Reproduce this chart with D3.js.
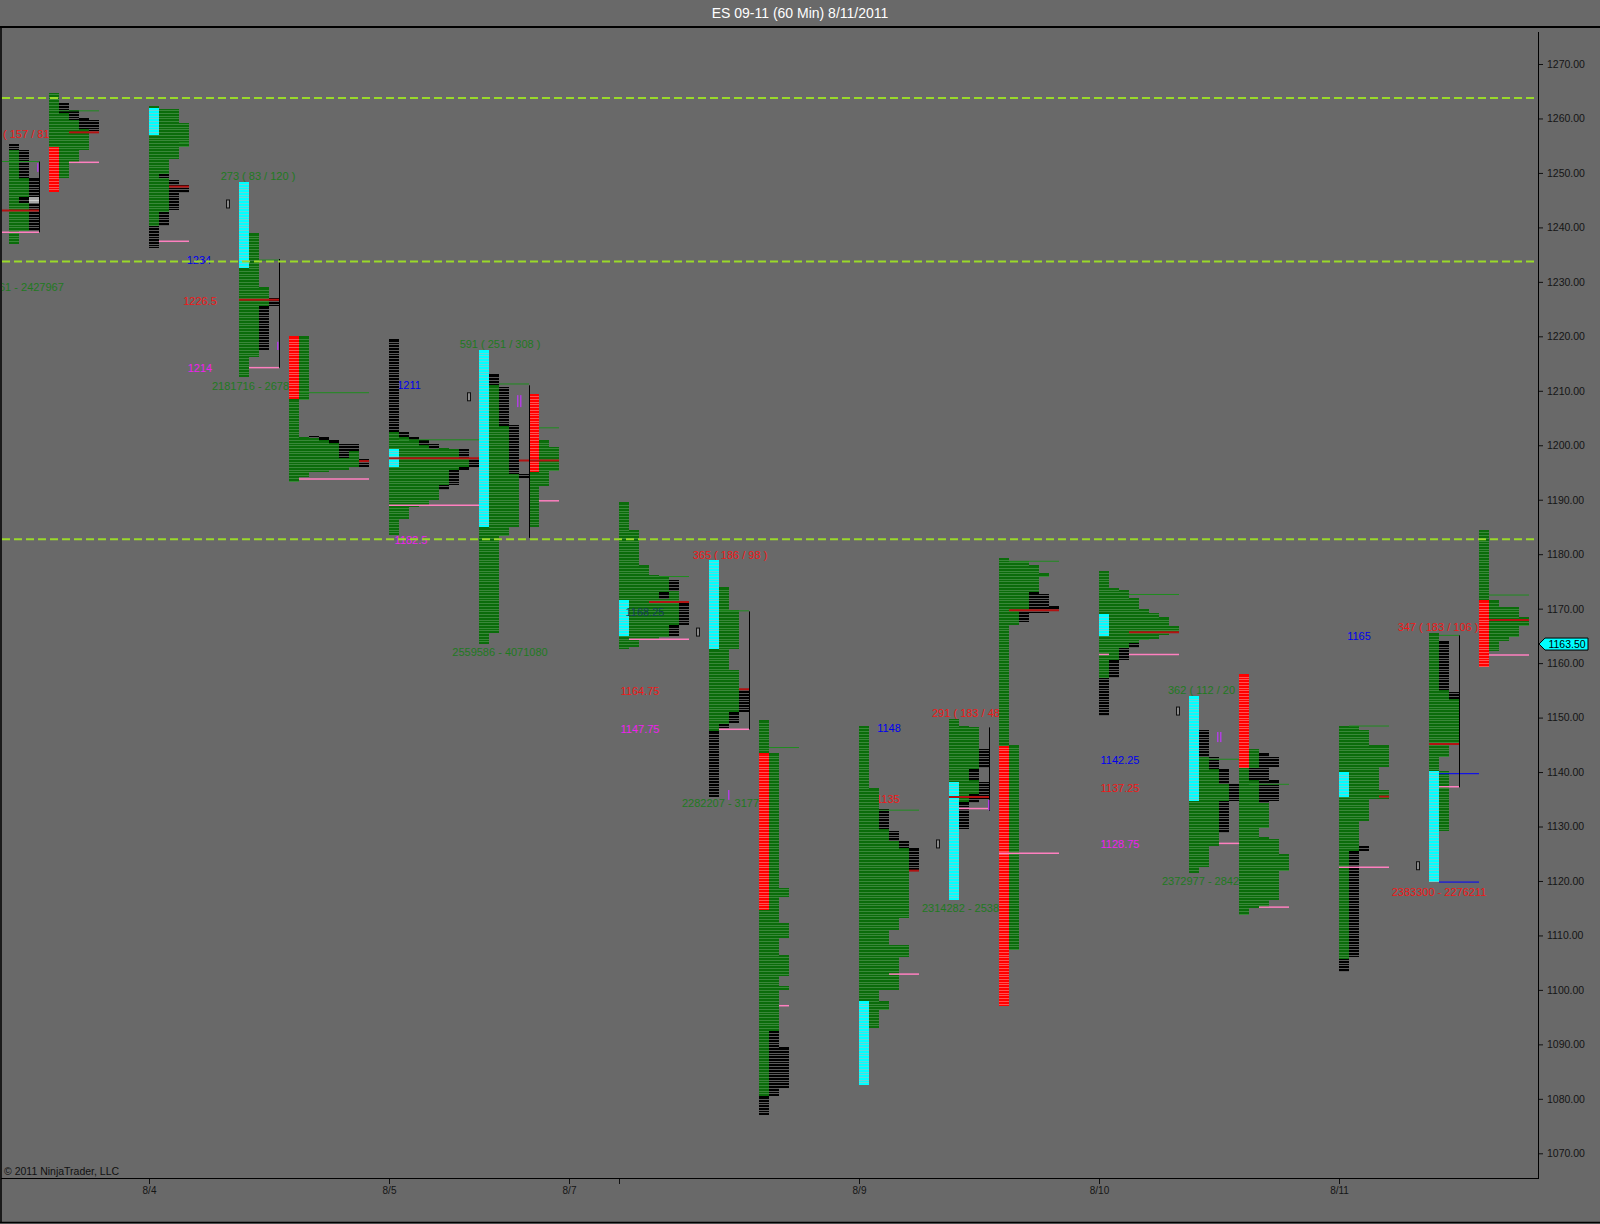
<!DOCTYPE html>
<html><head><meta charset="utf-8">
<script src="https://cdn.jsdelivr.net/npm/d3@7"></script>
<style>
html,body{margin:0;padding:0;background:#696969;}
svg{display:block;}
text{font-family:"Liberation Sans",Arial,sans-serif;}
</style></head><body>
<svg id="c" width="1600" height="1224"></svg>
<script>
// ---------- DATA ----------
const title = "ES 09-11 (60 Min)  8/11/2011";
const priceTicks = d3.range(1070, 1271, 10);
const dateSlots = [14, 38, 56, 61, 85, 109, 133];
const dateLabels = ["8/4", "8/5", "8/7", "", "8/9", "8/10", "8/11"];
const levels = [1263.75, 1233.75, 1182.75];
const lastPrice = 1163.50;

// profile columns: [slot, low, high, colour]  g=green k=black c=cyan r=red x=grey
const prof01 = [[0,1237,1254.25,'g'],[0,1254.25,1255.25,'k'],[1,1239.25,1249,'g'],[1,1249,1254.25,'k'],[1,1244.5,1245.5,'k'],[2,1239.25,1249,'k'],[2,1244.5,1245.5,'x']];
const prof02 = [[4,1254.75,1264.75,'g'],[4,1246.5,1254.75,'r'],[5,1249,1261,'g'],[5,1261,1262.75,'k'],[6,1252,1259.75,'g'],[6,1259.75,1261.5,'k'],[7,1254.25,1258,'g'],[7,1258,1260,'k'],[8,1257.75,1259.75,'k']];
const prof03 = [[14,1240.25,1262.25,'g'],[14,1257,1262,'c'],[14,1236.25,1240.25,'k'],[15,1242.75,1261.75,'g'],[15,1249,1249.75,'k'],[15,1240.25,1242.75,'k'],[16,1252.5,1261.75,'g'],[16,1243.25,1248.75,'k'],[17,1254.75,1259.25,'g'],[17,1246.25,1247.75,'k']];
const prof04 = [[23,1212.5,1232.5,'g'],[23,1232.5,1248.25,'c'],[24,1216.25,1239,'g'],[25,1225.5,1229,'g'],[25,1217.5,1225.5,'k'],[26,1225.5,1227,'k']];
const prof05 = [[28,1193.25,1208.5,'g'],[28,1208.5,1220,'r'],[29,1208.25,1220,'g'],[29,1194.25,1201.5,'g'],[30,1195,1201.25,'g'],[30,1201.25,1201.75,'k'],[31,1195,1201,'g'],[31,1201,1201.5,'k'],[32,1195.5,1200.5,'g'],[32,1200.5,1201,'k'],[33,1195.5,1197.75,'g'],[33,1197.75,1200.25,'k'],[34,1196,1199,'g'],[34,1199,1200.25,'k'],[35,1196,1197.5,'k']];
const prof06 = [[38,1183.5,1202.5,'g'],[38,1202.5,1219.5,'k'],[38,1196,1199.25,'c'],[39,1186.5,1201.5,'g'],[39,1201.5,1202.5,'k'],[40,1188.75,1201,'g'],[40,1201,1201.5,'k'],[41,1189,1200,'g'],[41,1200,1201,'k'],[42,1190,1199.25,'g'],[42,1199.25,1200.25,'k'],[43,1192.75,1199.5,'g'],[43,1191.75,1192.75,'k'],[44,1195.5,1199.25,'g'],[44,1192.75,1195.5,'k'],[45,1196,1197.75,'g'],[45,1197.75,1199.25,'k'],[45,1195.5,1196,'k'],[46,1196,1197.75,'k']];
const prof07 = [[47,1163.5,1185,'g'],[47,1185,1217.5,'c'],[48,1165.5,1211,'g'],[48,1211,1213,'k'],[49,1183.25,1203.5,'g'],[49,1203.5,1210.75,'k'],[50,1185,1194.75,'g'],[50,1194.75,1203.75,'k'],[51,1194,1194.75,'k'],[52,1185,1195,'g'],[52,1195,1209.5,'r'],[53,1192.5,1201,'g'],[54,1195.25,1199.75,'g']];
const prof08 = [[61,1162.5,1189.5,'g'],[61,1165,1171.5,'c'],[62,1163,1184.5,'g'],[63,1164.25,1178,'g'],[64,1164.25,1176.25,'g'],[65,1164.75,1176,'g'],[65,1171.75,1173,'k'],[66,1167,1173.25,'g'],[66,1173.25,1175.25,'k'],[66,1165,1167,'k'],[67,1167,1171,'k']];
const prof09 = [[70,1147.5,1162.5,'g'],[70,1162.5,1179,'c'],[70,1135.5,1147.5,'k'],[71,1148.75,1174,'g'],[71,1147.75,1148.75,'k'],[72,1162.5,1169.75,'g'],[72,1151,1158.75,'g'],[72,1149,1151,'k'],[73,1151,1155.25,'k']];
const prof10 = [[75,1143.5,1149.5,'g'],[75,1114.75,1143.5,'r'],[75,1080.5,1114.75,'g'],[75,1077,1080.5,'k'],[76,1092.5,1143.5,'g'],[76,1080.5,1092.5,'k'],[77,1117,1118.75,'g'],[77,1109.5,1112.25,'g'],[77,1102.5,1106.5,'g'],[77,1100,1100.75,'g'],[77,1082,1089.5,'k']];
const prof11 = [[85,1098,1148.5,'g'],[85,1082.5,1098,'c'],[86,1093,1137,'g'],[87,1129.5,1133.25,'k'],[87,1100,1129.5,'g'],[87,1096.25,1098,'g'],[88,1127.25,1129.25,'k'],[88,1111,1127.25,'g'],[88,1100,1108.25,'g'],[89,1126,1127.25,'k'],[89,1113.25,1126,'g'],[89,1106,1108.25,'g'],[90,1122,1126,'k']];
const prof12 = [[94,1138.25,1149.75,'g'],[94,1116.5,1138.25,'c'],[95,1134.5,1148.5,'g'],[95,1129.5,1134.5,'k'],[96,1140.5,1148.25,'g'],[96,1138.5,1140.5,'k'],[96,1136,1138.5,'g'],[96,1134.25,1136,'k'],[97,1140.75,1144.25,'k'],[97,1135,1138.25,'k']];
const prof13 = [[99,1144.75,1179.25,'g'],[99,1097,1144.75,'r'],[100,1167,1178.75,'g'],[100,1107.25,1145,'g'],[101,1169.75,1178.75,'g'],[101,1167.5,1169.75,'k'],[102,1173,1178,'g'],[102,1169.25,1173,'k'],[103,1175.75,1176.5,'g'],[103,1169.25,1172.75,'k'],[104,1169.5,1170.5,'k']];
const prof14 = [[109,1157.25,1177,'g'],[109,1165,1169,'c'],[109,1150.25,1157.25,'k'],[110,1160.5,1173.75,'g'],[110,1157.25,1160.5,'k'],[111,1162.75,1173.5,'g'],[111,1160.5,1162.75,'k'],[112,1163.75,1172,'g'],[112,1162.75,1163.75,'k'],[113,1164.25,1170,'g'],[114,1164.5,1169.25,'g'],[115,1165.25,1168.5,'g'],[116,1165.5,1166.75,'g']];
const prof15 = [[118,1134.75,1154,'c'],[118,1121.5,1134.75,'g'],[119,1142.75,1147.75,'k'],[119,1122.5,1142.75,'g'],[120,1140.5,1142.75,'k'],[120,1126.5,1140.5,'g'],[121,1137.75,1140.5,'k'],[121,1134.75,1137.75,'g'],[121,1128.75,1134.75,'k'],[122,1134.75,1137.75,'k']];
const prof16 = [[123,1140.75,1158,'r'],[123,1113.75,1140.75,'g'],[124,1140.75,1144.25,'g'],[124,1138.5,1140.75,'k'],[124,1115,1138.5,'g'],[125,1134.25,1143.5,'k'],[125,1129.75,1134.25,'g'],[125,1115.25,1128,'g'],[126,1141,1142.75,'k'],[126,1134.75,1138.5,'k'],[126,1116.5,1127.75,'g'],[127,1121.75,1125,'g']];
const prof17 = [[133,1105.75,1148.5,'g'],[133,1135.5,1140,'c'],[133,1103.25,1105.75,'k'],[134,1125.5,1148.5,'g'],[134,1106,1125.5,'k'],[135,1131,1147.75,'g'],[135,1125.5,1126.5,'k'],[136,1135,1145,'g'],[137,1141,1145,'g'],[137,1135,1136.75,'g']];
const prof18 = [[142,1140.25,1165.5,'g'],[142,1119.75,1140.25,'c'],[143,1155,1164,'k'],[143,1142.75,1155,'g'],[143,1129.25,1140.25,'g'],[144,1153.5,1154.75,'k'],[144,1145.25,1153.5,'g']];
const prof19 = [[147,1171.5,1184.5,'g'],[147,1159.25,1171.5,'r'],[148,1162.25,1171.5,'g'],[149,1164,1170.25,'g'],[150,1164.75,1170.25,'g'],[151,1166.75,1168.5,'g']];
const profiles = [prof01,prof02,prof03,prof04,prof05,prof06,prof07,prof08,prof09,prof10,prof11,prof12,prof13,prof14,prof15,prof16,prof17,prof18,prof19];

// horizontal reference lines: [slotStart, slotEnd, price, type]  g=VAH r=POC p=VAL b=blue
const hLines = [
 [-1,3,1252.1,'g'],[-1,3,1243.1,'r'],[-1,3,1239.1,'p'],
 [5,9,1261.4,'g'],[6,9,1257.45,'r'],[6,9,1251.95,'p'],
 [17,18,1255.55,'g'],[16,18,1247.5,'r'],[15,18,1237.45,'p'],
 [25,27,1234.0,'g'],[23,27,1226.7,'r'],[24,27,1214.25,'p'],
 [29,36,1209.65,'g'],[35,36,1197.1,'r'],[29,36,1193.8,'p'],
 [39,47,1201.0,'g'],[38,47,1197.6,'r'],[38,47,1189.0,'p'],
 [49,52,1211.25,'g'],[53,55,1203.2,'g'],[51,55,1197.2,'r'],[53,55,1189.8,'p'],
 [65,68,1175.9,'g'],[64,68,1171.2,'r'],[62,68,1164.4,'p'],
 [71,74,1169.6,'g'],[73,74,1155.2,'r'],[71,74,1147.85,'p'],
 [76,79,1144.5,'g'],[77,78,1097.1,'p'],
 [87,91,1133.0,'g'],[90,91,1121.9,'r'],[88,91,1102.9,'p'],
 [94,98,1135.4,'r'],[95,98,1133.3,'p'],
 [100,105,1178.7,'g'],[100,105,1169.7,'r'],[99,105,1125.1,'p'],
 [112,117,1172.6,'g'],[112,117,1165.65,'r'],[112,117,1161.6,'p'],[109,110,1161.6,'p'],
 [120,123,1142.35,'g'],[121,123,1126.9,'p'],
 [124,128,1137.75,'g'],[125,128,1115.2,'p'],
 [134,138,1148.45,'g'],[137,138,1135.5,'r'],[133,138,1122.5,'p'],
 [143,145,1165.1,'g'],[142,145,1145.15,'r'],[143,147,1139.7,'b'],[143,147,1119.8,'b'],[143,145,1137.3,'p'],
 [148,152,1172.5,'g'],[148,152,1167.9,'r'],[148,152,1161.5,'p']
];
// vertical value-area brackets: [slot, high, low]
const brackets = [[3,1252.1,1239.1],[27,1234.2,1214.25],[52,1211,1183],[74,1169.5,1147.85],[98,1148.2,1132.9],[145,1165.1,1137.2]];
// small violet marks: [slot, high, low, count]
const violet = [[2.8,1251.8,1250.2,1],[26.8,1219,1217.5,1],[50.8,1209.2,1207,2],[71.9,1136.7,1134.9,1],[97.9,1134.9,1133,1],[120.8,1147.35,1145.5,2]];
// small outlined markers: [slot, price]
const boxes = [[21.9,1244.3],[46,1208.9],[68.9,1165.7],[92.9,1126.8],[116.9,1151.2],[140.9,1122.8]];
// annotations: [slot, price, text, colour, anchor, layer]
const labels = [
 [-0.6,1257.2,"( 157 / 81",'r','start',0],
 [-1.0,1228.95,"61 - 2427967",'g','start',0],
 [24.9,1249.35,"273 ( 83 / 120 )",'g','middle',0],
 [19.0,1234.0,"1234",'b','middle',0],
 [19.1,1226.5,"1226.5",'r','middle',0],
 [19.1,1214.2,"1214",'m','middle',0],
 [20.3,1210.8,"2181716 - 2678",'g','start',0],
 [40.0,1211.1,"1211",'b','middle',0],
 [40.2,1182.6,"1182.5",'m','middle',0],
 [49.1,1218.6,"591 ( 251 / 308 )",'g','middle',0],
 [49.1,1162.0,"2559586 - 4071080",'g','middle',0],
 [72.1,1179.85,"365 ( 186 / 98 )",'r','middle',0],
 [63.6,1169.3,"1168.25",'d','middle',1],
 [63.1,1154.9,"1164.75",'r','middle',0],
 [63.1,1147.9,"1147.75",'m','middle',0],
 [67.3,1134.3,"2282207 - 3177",'g','start',0],
 [88.0,1148.1,"1148",'b','middle',0],
 [86.7,1135.05,"1135",'r','start',0],
 [92.3,1150.8,"291 ( 183 / 48",'r','start',0],
 [91.3,1115.0,"2314282 - 2538",'g','start',0],
 [111.1,1142.2,"1142.25",'b','middle',0],
 [111.1,1137.1,"1137.25",'r','middle',0],
 [111.1,1126.8,"1128.75",'m','middle',0],
 [115.9,1155.1,"362 ( 112 / 20",'g','start',0],
 [115.3,1119.9,"2372977 - 2842",'g','start',0],
 [135.0,1164.9,"1165",'b','middle',0],
 [142.9,1166.6,"347 ( 183 / 106 )",'r','middle',0],
 [143.0,1118.0,"2383300 - 2276211",'r','middle',0]
];

// ---------- STYLE ----------
const fillC = {g:'#0b6c0b', k:'#000000', c:'#00ffff', r:'#ff0000', x:'#a9a9a9'};
const stripeC = {g:'#3a883a', k:'#5a5a5a', c:'#66d6d6', r:'#ff5252', x:'#cfcfcf'};
const lineC = {g:'#1f8c1f', r:'#b31212', p:'#ff80c0', b:'#0000ff'};
const lineW = {g:1, r:2, p:1.5, b:1};
const textC = {r:'#f01818', g:'#1f7a1f', b:'#0000f0', m:'#f020f0', d:'#173d5c'};

// ---------- SCALES ----------
const x = d3.scaleLinear().domain([0, 1]).range([9, 19]);
const y = d3.scaleLinear().domain([1070, 1270]).range([1153.3, 64]);
const plotL = 2, plotR = 1538, plotT = 28, plotB = 1178;

const svg = d3.select('#c');
svg.append('rect').attr('width',1600).attr('height',1224).attr('fill','#696969');
svg.append('defs').append('clipPath').attr('id','pc').append('rect')
  .attr('x',plotL).attr('y',plotT).attr('width',plotR-plotL).attr('height',plotB-plotT);
const plot = svg.append('g').attr('clip-path','url(#pc)');

function drawLabels(layer){
  plot.append('g').selectAll('text').data(labels.filter(d=>d[5]===layer)).join('text')
    .attr('x', d=>x(d[0])).attr('y', d=>y(d[1])).attr('dy','0.35em')
    .attr('text-anchor', d=>d[4]).attr('font-size', 11).attr('fill', d=>textC[d[3]])
    .text(d=>d[2]);
}
drawLabels(0);

// profiles
const gp = plot.append('g').attr('shape-rendering','crispEdges');
profiles.forEach(pr => {
  pr.forEach(s => {
    const [slot, lo, hi, c] = s;
    const x0 = x(slot), w = x(slot+1) - x(slot);
    gp.append('rect').attr('x', x0).attr('y', y(hi)).attr('width', w)
      .attr('height', y(lo) - y(hi)).attr('fill', fillC[c]);
    const stripes = [];
    for (let p = Math.floor(lo/0.5)*0.5 + 0.5; p < hi - 0.01; p += 0.5) stripes.push(p);
    gp.selectAll(null).data(stripes).enter().append('line')
      .attr('x1', x0).attr('x2', x0 + w)
      .attr('y1', p=>Math.round(y(p))+0.5).attr('y2', p=>Math.round(y(p))+0.5)
      .attr('stroke', stripeC[c]).attr('stroke-width', 1);
  });
});

// horizontal lines
plot.append('g').selectAll('line').data(hLines).join('line')
  .attr('x1', d=>x(d[0])).attr('x2', d=>x(d[1]))
  .attr('y1', d=>y(d[2])).attr('y2', d=>y(d[2]))
  .attr('stroke', d=>lineC[d[3]]).attr('stroke-width', d=>lineW[d[3]]);

// brackets
plot.append('g').selectAll('line').data(brackets).join('line')
  .attr('x1', d=>x(d[0])+0.5).attr('x2', d=>x(d[0])+0.5)
  .attr('y1', d=>y(d[1])).attr('y2', d=>y(d[2]))
  .attr('stroke', '#000').attr('stroke-width', 1);

// violet marks
const gv = plot.append('g');
violet.forEach(v => {
  for (let i = 0; i < v[3]; i++) {
    gv.append('rect').attr('x', x(v[0]) + i*3).attr('y', y(v[1]))
      .attr('width', 1.5).attr('height', y(v[2]) - y(v[1])).attr('fill', '#b040e0');
  }
});

// small boxes
plot.append('g').selectAll('rect').data(boxes).join('rect')
  .attr('x', d=>x(d[0])-1.5).attr('y', d=>y(d[1])-4).attr('width', 3).attr('height', 8)
  .attr('fill', '#8a8a8a').attr('stroke', '#111').attr('stroke-width', 1);

drawLabels(1);

// dashed levels
plot.append('g').selectAll('line').data(levels).join('line')
  .attr('x1', plotL).attr('x2', plotR).attr('y1', d=>y(d)).attr('y2', d=>y(d))
  .attr('stroke', '#9ad92a').attr('stroke-width', 2).attr('stroke-dasharray', '8,4');

// ---------- AXES ----------
const ya = svg.append('g').attr('transform', `translate(${plotR},0)`)
  .call(d3.axisRight(y).tickValues(priceTicks).tickFormat(d3.format('.2f')).tickSize(5).tickPadding(4));
ya.select('.domain').remove();
ya.selectAll('line').attr('stroke', '#111');
ya.selectAll('text').attr('fill', '#151515').attr('font-size', 10.5)
  .attr('font-family', '"Liberation Sans",Arial,sans-serif');

const xa = svg.append('g').attr('transform', `translate(0,${plotB})`)
  .call(d3.axisBottom(x).tickValues(dateSlots).tickFormat((d,i)=>dateLabels[i]).tickSize(6).tickPadding(3));
xa.select('.domain').remove();
xa.selectAll('line').attr('stroke', '#111');
xa.selectAll('text').attr('fill', '#151515').attr('font-size', 10)
  .attr('font-family', '"Liberation Sans",Arial,sans-serif');

// frame
const fr = svg.append('g').attr('stroke', '#000');
fr.append('line').attr('x1',0).attr('x2',1600).attr('y1',27).attr('y2',27).attr('stroke-width',2);
fr.append('line').attr('x1',1).attr('x2',1).attr('y1',27).attr('y2',1223).attr('stroke-width',1.5);
fr.append('line').attr('x1',1).attr('x2',plotR).attr('y1',plotB+0.5).attr('y2',plotB+0.5).attr('stroke-width',1);
fr.append('line').attr('x1',plotR+0.5).attr('x2',plotR+0.5).attr('y1',32).attr('y2',plotB+1).attr('stroke-width',1);
fr.append('line').attr('x1',0).attr('x2',1600).attr('y1',1222.5).attr('y2',1222.5).attr('stroke-width',1.5);

// last price marker
const ly = y(lastPrice);
svg.append('path')
  .attr('d', `M${plotR+1},${ly} L${plotR+7},${ly-6} L${plotR+50},${ly-6} L${plotR+50},${ly+6} L${plotR+7},${ly+6} Z`)
  .attr('fill', '#00ffff').attr('stroke', '#000').attr('stroke-width', 1);
svg.append('text').attr('x', plotR+29).attr('y', ly).attr('dy','0.35em').attr('text-anchor','middle')
  .attr('font-size', 10.5).attr('fill', '#000').text(d3.format('.2f')(lastPrice));

// title & copyright
svg.append('text').attr('x', 800).attr('y', 13).attr('dy','0.35em').attr('text-anchor','middle')
  .attr('font-size', 14).attr('fill', '#ffffff').text(title);
svg.append('text').attr('x', 4).attr('y', 1171).attr('dy','0.35em')
  .attr('font-size', 10.5).attr('fill', '#111').text('© 2011 NinjaTrader, LLC');
</script></body></html>
